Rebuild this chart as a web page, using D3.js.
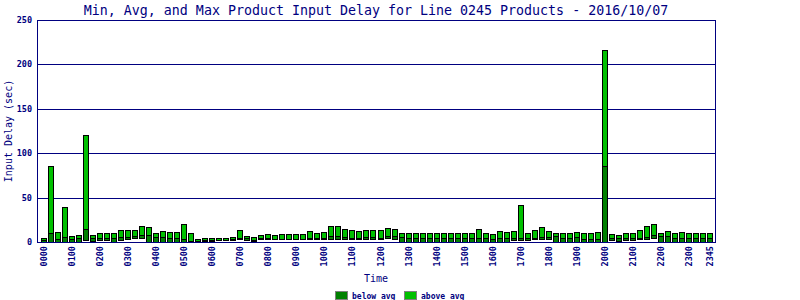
<!DOCTYPE html>
<html>
<head>
<meta charset="utf-8">
<script src="https://cdn.jsdelivr.net/npm/d3@7"></script>
<style>
  body { margin: 0; background: #fff; }
  svg { display: block; font-family: "DejaVu Sans Mono", monospace; }
</style>
</head>
<body>
<div id="chart"></div>
<script>
/* global d3 */

// ── Data ───────────────────────────────────────────────────────
const hours = ['00', '01', '02', '03', '04', '05', '06', '07', '08', '09', '10', '11',
  '12', '13', '14', '15', '16', '17', '18', '19', '20', '21', '22', '23'];
const quarters = ['00', '15', '30', '45'];
const times = hours.flatMap((h) => quarters.map((q) => h + q));

const tickLabels = ['0000', '0100', '0200', '0300', '0400', '0500', '0600', '0700',
  '0800', '0900', '1000', '1100', '1200', '1300', '1400', '1500', '1600', '1700',
  '1800', '1900', '2000', '2100', '2200', '2300', '2345'];

const minDelay = [
  0, 0, 0, 0, 0, 0, 1.9, 1.1, 1.9, 1.9, 0, 1.9, 3, 4.1, 4.1, 0,
  0, 0, 0, 0, 0, 0, 0, 0.8, 0.8, 1.9, 1.9, 1.9, 3, 2.6, 1.1, 3,
  3, 3, 3, 3, 3, 3, 3, 3, 3.8, 3.8, 3.8, 3.8, 3.8, 3.8, 3.8, 3.8,
  3.8, 4.9, 3.8, 0, 0, 0, 0, 0, 0, 0, 0, 0, 0, 0, 0, 0,
  0, 0, 0, 2.3, 1.9, 1.9, 3, 3.8, 3, 0, 0, 0, 0, 0, 0, 0,
  0, 1.9, 1.1, 2.3, 2.3, 3.4, 3.4, 4.1, 0, 0, 0, 0, 0, 0, 0, 0,
];

const avgDelay = [
  2.6, 10, 3.2, 5.3, 3, 4.1, 14.5, 4, 4.8, 4.8, 4, 5.3, 5.3, 6.4, 7.5, 7.5,
  5.3, 5.3, 4.1, 4.3, 3.4, 1.5, 1.5, 2.6, 2.6, 2.6, 2.6, 3, 4.1, 4.1, 2.6, 4.1,
  4.1, 3.8, 3.8, 3.8, 3.8, 3.8, 4.9, 4.1, 4.9, 6.4, 6.4, 5.3, 4.9, 4.9, 6, 6,
  4.9, 6.4, 6.4, 6, 4.9, 4.9, 4.9, 4.9, 4.9, 4.9, 4.9, 4.9, 4.9, 4.9, 4.9, 4.9,
  3.8, 4.9, 4.9, 4.5, 4.1, 4.5, 4.9, 6, 5.6, 6.4, 4.9, 4.9, 5.3, 3.8, 3.8, 3.4,
  86, 4.1, 4.1, 4.9, 4.9, 4.5, 6, 7.9, 6.8, 6.8, 4.5, 4.5, 4.5, 4.5, 4.5, 4.5,
];

const maxDelay = [
  4.5, 85.5, 11, 39.4, 6.6, 7.7, 120.4, 7.7, 10, 10, 10, 13.1, 13.1, 13.1, 17.6, 16.8,
  9.8, 12, 10.9, 10.9, 19.9, 9.8, 3, 4.1, 4.1, 4.1, 4.1, 5.3, 13.1, 6.6, 5.3, 7.7,
  8.8, 7.7, 8.8, 8.8, 8.8, 8.8, 12, 9.9, 11, 17.6, 17.6, 14.3, 13.1, 12, 13.1, 13.1,
  13.1, 15.4, 14.3, 9.8, 9.8, 9.8, 9.8, 9.8, 9.8, 9.8, 9.8, 9.8, 9.8, 9.8, 14.3, 9.8,
  8.6, 12, 10.9, 12, 41.3, 9.8, 13.1, 16.5, 12, 9.8, 9.8, 9.8, 10.9, 9.8, 9.8, 10.9,
  216, 9, 7.9, 10.1, 10.1, 13.5, 18, 20.3, 10.1, 12.4, 10.1, 11.3, 10.1, 10.1, 10.1, 10.1,
];

const yTicks = [0, 50, 100, 150, 200, 250];

// ── Layout ─────────────────────────────────────────────────────
const W = 800;
const H = 300;
const PLOT = { left: 37, right: 715, top: 20, bottom: 242 };
const NAVY = '#000080';
const DARK = '#008000';
const BRIGHT = '#00c000';

const svg = d3.select('#chart')
  .append('svg')
  .attr('width', W)
  .attr('height', H);

const x = d3.scaleBand()
  .domain(times)
  .range([41, 713])
  .paddingInner(1 / 7)
  .paddingOuter(0);

const y = d3.scaleLinear()
  .domain([0, 250])
  .range([PLOT.bottom, PLOT.top]);

const px = (v) => Math.round(v) + 0.5;

// Title
svg.append('text')
  .attr('x', (PLOT.left + PLOT.right) / 2)
  .attr('y', 15)
  .attr('text-anchor', 'middle')
  .attr('fill', NAVY)
  .style('font-size', '13.3px')
  .text('Min, Avg, and Max Product Input Delay for Line 0245 Products - 2016/10/07');

// ── Grid + y axis ──────────────────────────────────────────────
svg.append('g')
  .selectAll('line')
  .data(yTicks)
  .join('line')
  .attr('x1', PLOT.left)
  .attr('x2', PLOT.right)
  .attr('y1', (d) => px(y(d)))
  .attr('y2', (d) => px(y(d)))
  .attr('stroke', NAVY)
  .attr('stroke-width', 1)
  .attr('shape-rendering', 'crispEdges');

svg.append('g')
  .selectAll('text')
  .data(yTicks)
  .join('text')
  .attr('x', 32)
  .attr('y', (d) => y(d) + 3)
  .attr('text-anchor', 'end')
  .attr('fill', NAVY)
  .style('font-size', '8.5px')
  .style('font-weight', 'bold')
  .text((d) => d);

svg.append('text')
  .attr('transform', `translate(12,${(PLOT.top + PLOT.bottom) / 2}) rotate(-90)`)
  .attr('text-anchor', 'middle')
  .attr('fill', NAVY)
  .style('font-size', '10px')
  .text('Input Delay (sec)');

// ── Bars: min→avg dark, avg→max bright ─────────────────────────
const rows = times.map((t, i) => ({
  time: t, min: minDelay[i], avg: avgDelay[i], max: maxDelay[i],
}));

const bars = svg.append('g').attr('class', 'bars')
  .selectAll('g')
  .data(rows)
  .join('g')
  .attr('shape-rendering', 'crispEdges');

bars.append('rect')
  .attr('x', (d) => px(x(d.time)))
  .attr('width', x.bandwidth() - 1)
  .attr('y', (d) => px(y(d.avg)))
  .attr('height', (d) => Math.max(0, Math.round(y(d.min)) - Math.round(y(d.avg))))
  .attr('fill', DARK)
  .attr('stroke', '#000')
  .attr('stroke-width', 1);

bars.append('rect')
  .attr('x', (d) => px(x(d.time)))
  .attr('width', x.bandwidth() - 1)
  .attr('y', (d) => px(y(d.max)))
  .attr('height', (d) => Math.max(0, Math.round(y(d.avg)) - Math.round(y(d.max))))
  .attr('fill', BRIGHT)
  .attr('stroke', '#000')
  .attr('stroke-width', 1);

// Plot frame
svg.append('rect')
  .attr('x', px(PLOT.left))
  .attr('y', px(PLOT.top))
  .attr('width', PLOT.right - PLOT.left)
  .attr('height', PLOT.bottom - PLOT.top)
  .attr('fill', 'none')
  .attr('stroke', NAVY)
  .attr('shape-rendering', 'crispEdges');

// ── X axis labels ──────────────────────────────────────────────
svg.append('g')
  .selectAll('text')
  .data(tickLabels)
  .join('text')
  .attr('transform', (d) =>
    `translate(${x(d) + x.bandwidth() / 2 + 3},246) rotate(-90)`)
  .attr('text-anchor', 'end')
  .attr('fill', NAVY)
  .style('font-size', '8.5px')
  .style('font-weight', 'bold')
  .text((d) => d);

svg.append('text')
  .attr('x', (PLOT.left + PLOT.right) / 2)
  .attr('y', 282)
  .attr('text-anchor', 'middle')
  .attr('fill', NAVY)
  .style('font-size', '10px')
  .text('Time');

// ── Legend ─────────────────────────────────────────────────────
const legendItems = [
  { label: 'below avg', color: DARK, x: 335 },
  { label: 'above avg', color: BRIGHT, x: 404 },
];

const legend = svg.append('g')
  .selectAll('g')
  .data(legendItems)
  .join('g')
  .attr('transform', (d) => `translate(${d.x},291)`);

legend.append('rect')
  .attr('x', 0.5).attr('y', 0.5)
  .attr('width', 12).attr('height', 8)
  .attr('fill', (d) => d.color)
  .attr('stroke', '#808080')
  .attr('shape-rendering', 'crispEdges');

legend.append('text')
  .attr('x', 17)
  .attr('y', 7.5)
  .attr('fill', NAVY)
  .style('font-size', '8px')
  .style('font-weight', 'bold')
  .text((d) => d.label);
</script>
</body>
</html>
